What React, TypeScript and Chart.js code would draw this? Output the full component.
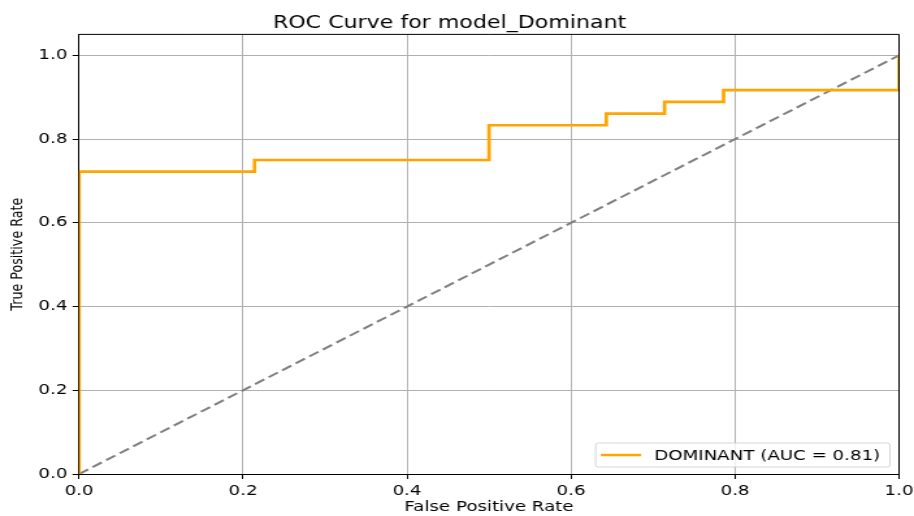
import React, { useEffect, useRef } from "react";
import { Chart, registerables } from "chart.js";

Chart.register(...registerables);

// ROC operating points (false positive rate / true positive rate)
const fpr = [0, 0, 0.214, 0.214, 0.5, 0.5, 0.643, 0.643, 0.714, 0.714, 0.786, 0.786, 1, 1];
const tpr = [0, 0.722, 0.722, 0.75, 0.75, 0.833, 0.833, 0.861, 0.861, 0.889, 0.889, 0.917, 0.917, 1];

// Chance diagonal
const chanceX = [0, 1];
const chanceY = [0, 1];

// Axis ticks
const xTickValues = [0, 0.2, 0.4, 0.6, 0.8, 1.0];
const yTickValues = [0, 0.2, 0.4, 0.6, 0.8, 1.0];

const chartTitle = "ROC Curve for model_Dominant";
const seriesLabel = "DOMINANT (AUC = 0.81)";
const xAxisTitle = "False Positive Rate";
const yAxisTitle = "True Positive Rate";

const FONT = "'DejaVu Sans', sans-serif";
const STRETCH = 1.3;
const BASE_W = Math.round(914 / STRETCH);
const BASE_H = 516;

// Top and right spines of the axes box
const framePlugin = {
  id: "frame",
  afterDatasetsDraw(chart: any) {
    const { ctx, chartArea: a } = chart;
    ctx.save();
    ctx.strokeStyle = "#000";
    ctx.lineWidth = 1;
    ctx.beginPath();
    ctx.moveTo(a.left, a.top);
    ctx.lineTo(a.right, a.top);
    ctx.lineTo(a.right, a.bottom);
    ctx.stroke();
    ctx.restore();
  },
};

// Legend box in the lower-right corner of the plot area
const cornerLegendPlugin = {
  id: "cornerLegend",
  afterDraw(chart: any) {
    const ds = chart.data.datasets[0];
    const { ctx, chartArea: a } = chart;
    ctx.save();
    ctx.font = `14px ${FONT}`;
    const textW = ctx.measureText(ds.label).width;
    const padL = 4;
    const handle = 31;
    const gap = 10;
    const padR = 7.5;
    const h = 24;
    const w = padL + handle + gap + textW + padR;
    const x1 = a.right - 7 - w;
    const y1 = a.bottom - 7 - h;
    ctx.globalAlpha = 0.8;
    ctx.fillStyle = "#fff";
    ctx.strokeStyle = "#cccccc";
    ctx.lineWidth = 1;
    ctx.beginPath();
    (ctx as any).roundRect(x1, y1, w, h, 2);
    ctx.fill();
    ctx.stroke();
    ctx.globalAlpha = 1;
    const cy = y1 + h / 2;
    ctx.strokeStyle = ds.borderColor;
    ctx.lineWidth = 2.5;
    ctx.beginPath();
    ctx.moveTo(x1 + padL, cy);
    ctx.lineTo(x1 + padL + handle, cy);
    ctx.stroke();
    ctx.fillStyle = "#000";
    ctx.textBaseline = "middle";
    ctx.textAlign = "left";
    ctx.fillText(ds.label, x1 + padL + handle + gap, cy + 1);
    ctx.restore();
  },
};

export default function App() {
  const canvasRef = useRef<HTMLCanvasElement | null>(null);

  useEffect(() => {
    if (!canvasRef.current) return;
    const rocPoints = fpr.map((x, i) => ({ x, y: tpr[i] }));
    const chancePoints = chanceX.map((x, i) => ({ x, y: chanceY[i] }));

    const chart = new Chart(canvasRef.current, {
      type: "line",
      data: {
        datasets: [
          {
            label: seriesLabel,
            data: rocPoints,
            borderColor: "#FFA500",
            backgroundColor: "#FFA500",
            borderWidth: 2.7,
            pointRadius: 0,
            tension: 0,
            fill: false,
          },
          {
            label: "chance",
            data: chancePoints,
            borderColor: "#808080",
            borderWidth: 2,
            borderDash: [8.5, 4],
            pointRadius: 0,
            tension: 0,
            fill: false,
          },
        ],
      },
      options: {
        responsive: true,
        maintainAspectRatio: false,
        animation: false,
        events: [],
        layout: { padding: { left: 0, right: 11.5, top: 0, bottom: 0 } },
        plugins: {
          legend: { display: false },
          tooltip: { enabled: false },
          title: {
            display: true,
            text: chartTitle,
            color: "#000",
            font: { family: FONT, size: 17, weight: "normal" },
            padding: { top: 13, bottom: 1 },
          },
        },
        scales: {
          x: {
            type: "linear",
            min: 0,
            max: 1,
            afterBuildTicks: (s: any) => {
              s.ticks = xTickValues.map((v) => ({ value: v }));
            },
            afterFit: (s: any) => {
              s.height = 42;
              s.paddingLeft = 0;
              s.paddingRight = 0;
            },
            ticks: {
              callback: (v: any) => Number(v).toFixed(1),
              padding: 4,
              maxRotation: 0,
              autoSkip: false,
              color: "#000",
              font: { family: FONT, size: 14 },
            },
            grid: {
              color: "#b0b0b0",
              lineWidth: 1,
              tickColor: "#000",
              tickLength: 5,
              tickWidth: 1,
            },
            border: { color: "#000", width: 1 },
            title: {
              display: true,
              text: xAxisTitle,
              color: "#000",
              font: { family: FONT, size: 14 },
              padding: { top: 0, bottom: 0 },
            },
          },
          y: {
            type: "linear",
            min: 0,
            max: 1.05,
            afterBuildTicks: (s: any) => {
              s.ticks = yTickValues.map((v) => ({ value: v }));
            },
            afterFit: (s: any) => {
              s.width = 60.8;
              s.paddingTop = 0;
              s.paddingBottom = 0;
            },
            ticks: {
              callback: (v: any) => Number(v).toFixed(1),
              padding: 4,
              autoSkip: false,
              color: "#000",
              font: { family: FONT, size: 14 },
            },
            grid: {
              color: "#b0b0b0",
              lineWidth: 1,
              tickColor: "#000",
              tickLength: 5,
              tickWidth: 1,
            },
            border: { color: "#000", width: 1 },
            title: {
              display: true,
              text: yAxisTitle,
              color: "#000",
              font: { family: FONT, size: 12.7 },
              padding: { top: 6, bottom: 0 },
            },
          },
        },
      },
      plugins: [framePlugin, cornerLegendPlugin],
    } as any);

    return () => chart.destroy();
  }, []);

  return (
    <div
      style={{
        position: "absolute",
        left: 0,
        top: 0,
        width: 914,
        height: 516,
        overflow: "hidden",
        background: "#fff",
      }}
    >
      <div
        style={{
          position: "absolute",
          left: 0,
          top: 0,
          width: BASE_W,
          height: BASE_H,
          transform: `scaleX(${914 / BASE_W})`,
          transformOrigin: "0 0",
        }}
      >
        <canvas ref={canvasRef} />
      </div>
    </div>
  );
}
